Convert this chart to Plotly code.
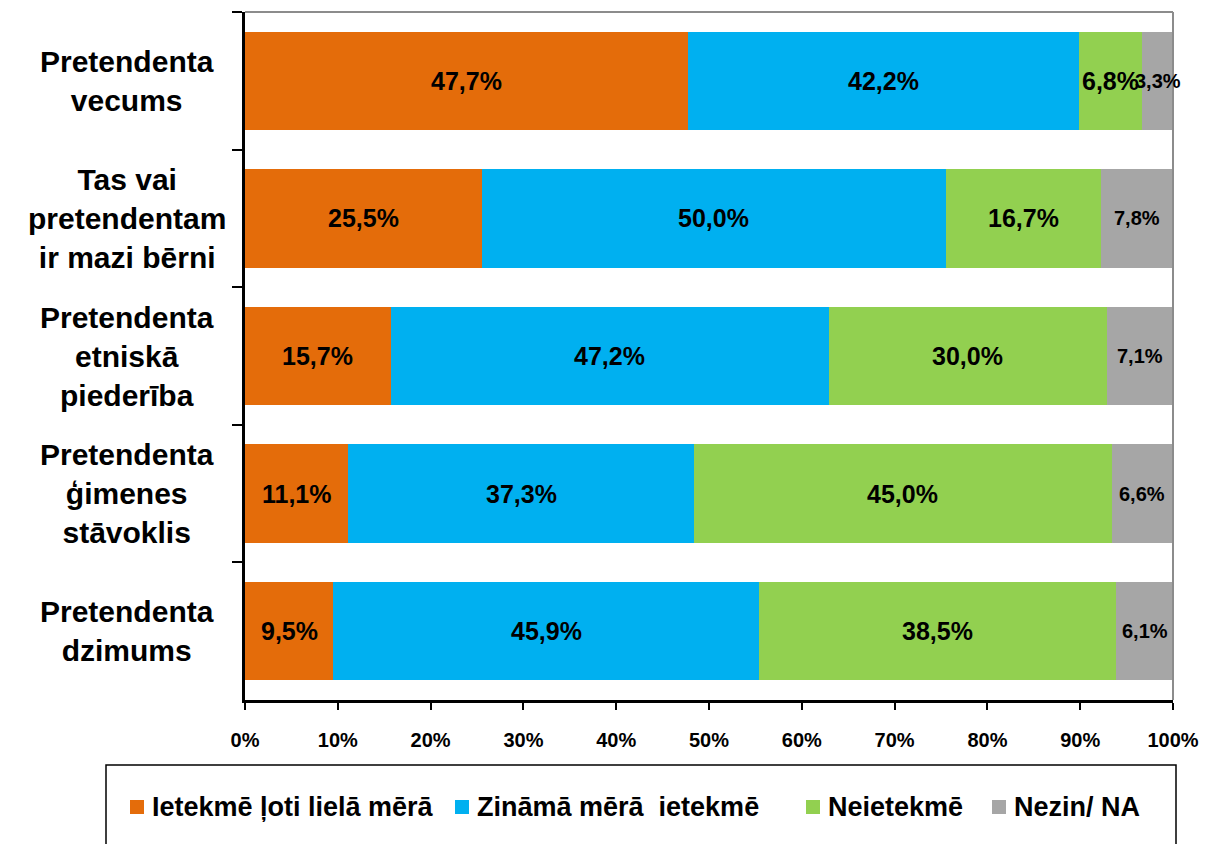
import plotly.graph_objects as go

# Survey factors (top to bottom)
categories = [
    "Pretendenta<br>vecums",
    "Tas vai<br>pretendentam<br>ir mazi bērni",
    "Pretendenta<br>etniskā<br>piederība",
    "Pretendenta<br>ģimenes<br>stāvoklis",
    "Pretendenta<br>dzimums",
]
cat_keys = ["vecums", "berni", "etniska", "gimenes", "dzimums"]

series_names = ["Ietekmē ļoti lielā mērā", "Zināmā mērā\u00a0 ietekmē", "Neietekmē", "Nezin/ NA"]
very_much = [47.7, 25.5, 15.7, 11.1, 9.5]
somewhat = [42.2, 50.0, 47.2, 37.3, 45.9]
no_effect = [6.8, 16.7, 30.0, 45.0, 38.5]
dont_know = [3.3, 7.8, 7.1, 6.6, 6.1]

x_ticks = [0, 10, 20, 30, 40, 50, 60, 70, 80, 90, 100]

colors = ["#E46C0A", "#00B0F0", "#92D050", "#A6A6A6"]
label_sizes = [25, 25, 25, 20]
FONT = "Liberation Sans, Arial, sans-serif"

series = [very_much, somewhat, no_effect, dont_know]

# plot-area geometry (pixels) used to place the legend box below the axis
W, H = 1205, 844
M_L, M_R, M_T, M_B = 245, 32, 12, 144
PW, PH = W - M_L - M_R, H - M_T - M_B


def px_x(px):
    return (px - M_L) / PW


def px_y(py):
    return (H - M_B - py) / PH


fig = go.Figure()
for name, vals, col in zip(series_names, series, colors):
    fig.add_trace(go.Bar(
        name=name, y=cat_keys, x=vals, orientation="h",
        marker=dict(color=col, line=dict(width=0)),
        hoverinfo="skip", showlegend=False,
    ))

annotations = []
# value labels centred in each segment
starts = [0.0] * len(cat_keys)
for vals, size in zip(series, label_sizes):
    for i, v in enumerate(vals):
        annotations.append(dict(
            x=starts[i] + v / 2, y=cat_keys[i], xref="x", yref="y",
            text=f"{v:.1f}%".replace(".", ","), showarrow=False,
            font=dict(family=FONT, size=size, color="black", weight="bold"),
        ))
        starts[i] += v

# category labels, centred lines
for key, label in zip(cat_keys, categories):
    annotations.append(dict(
        x=px_x(127), y=key, xref="paper", yref="y", xanchor="center", yanchor="middle",
        text=label, showarrow=False, align="center",
        font=dict(family=FONT, size=30, color="black", weight="bold"),
    ))

shapes = [
    # top and right frame lines of the plot area
    dict(type="line", xref="paper", yref="paper", x0=0, x1=1, y0=1, y1=1,
         line=dict(color="#8C8C8C", width=2)),
    dict(type="line", xref="paper", yref="paper", x0=1, x1=1, y0=0, y1=1,
         line=dict(color="#8C8C8C", width=2)),
    # legend frame
    dict(type="rect", xref="paper", yref="paper",
         x0=px_x(106), x1=px_x(1176), y0=px_y(870), y1=px_y(765),
         line=dict(color="black", width=1.5), fillcolor="rgba(0,0,0,0)"),
]

# legend: coloured square followed by the series name
legend_left = [130, 455, 806, 992]
for name, col, lx in zip(series_names, colors, legend_left):
    shapes.append(dict(
        type="rect", xref="paper", yref="paper",
        x0=px_x(lx), x1=px_x(lx + 14), y0=px_y(814), y1=px_y(800),
        line=dict(width=0), fillcolor=col,
    ))
    annotations.append(dict(
        x=px_x(lx + 20), y=px_y(807), xref="paper", yref="paper",
        xanchor="left", yanchor="middle", text=name, showarrow=False,
        font=dict(family=FONT, size=27, color="black", weight="bold"),
    ))

fig.update_layout(
    width=W, height=H,
    margin=dict(l=M_L, r=M_R, t=M_T, b=M_B, autoexpand=False),
    paper_bgcolor="white", plot_bgcolor="white",
    barmode="stack", bargap=0.285,
    showlegend=False,
    xaxis=dict(
        range=[0, 100], tickvals=x_ticks, ticktext=[f"{t}%" for t in x_ticks],
        showgrid=False, zeroline=False, automargin=False,
        showline=True, linecolor="black", linewidth=2.5,
        ticks="outside", ticklen=7, tickwidth=2, tickcolor="black",
        ticklabelstandoff=13,
        tickfont=dict(family=FONT, size=20, color="black", weight="bold"),
    ),
    yaxis=dict(
        categoryorder="array", categoryarray=cat_keys, autorange="reversed",
        showticklabels=False, showgrid=False, zeroline=False, automargin=False,
        showline=True, linecolor="black", linewidth=2.5,
        ticks="outside", tickson="boundaries", ticklen=10, tickwidth=2, tickcolor="black",
    ),
    annotations=annotations,
    shapes=shapes,
)

fig.write_html("out.html")
